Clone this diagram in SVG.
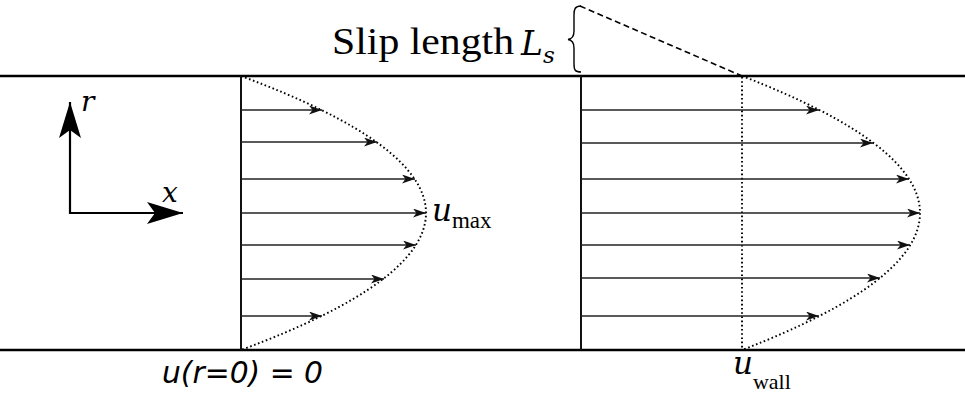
<svg xmlns="http://www.w3.org/2000/svg" width="965" height="394" viewBox="0 0 965 394">
<style>
.wall{stroke:#000;stroke-width:2.6;fill:none}
.base{stroke:#111;stroke-width:2;fill:none}
.vel{stroke:#222;stroke-width:1.4;fill:none;marker-end:url(#ah)}
.dot{stroke:#000;stroke-width:1.9;fill:none;stroke-dasharray:1.6 2.6}
.dash{stroke:#000;stroke-width:1.6;fill:none;stroke-dasharray:6 3.5}
.axis{stroke:#000;stroke-width:2.2;fill:none;marker-end:url(#big)}
.t{font-family:"Liberation Serif",serif;fill:#000}
.m{font-family:"DejaVu Serif",serif;font-style:italic;fill:#000}
.s{font-family:"DejaVu Sans",sans-serif;font-style:italic;fill:#000}
</style>
<defs>
<marker id="ah" markerUnits="userSpaceOnUse" markerWidth="14" markerHeight="10" refX="13" refY="4.5" orient="auto" viewBox="0 0 14 10">
<path d="M0,0 L13,4.5 L0,9 L3.5,4.5 Z" fill="#111"/>
</marker>
<marker id="big" markerUnits="userSpaceOnUse" markerWidth="38" markerHeight="24" refX="36" refY="11" orient="auto" viewBox="0 0 38 24">
<path d="M0,0 L36,11 L0,22 L8,11 Z" fill="#000"/>
</marker>
</defs>

<g id="walls">
<line class="wall" x1="0" y1="76" x2="965" y2="76"/>
<line class="wall" x1="0" y1="350" x2="965" y2="350"/>
</g>

<g id="axes">
<line class="axis" x1="70" y1="214" x2="70" y2="102"/>
<line class="axis" x1="69" y1="213" x2="183" y2="213"/>
<text class="m" x="81" y="111" font-size="28">r</text>
<text class="m" x="162" y="202" font-size="28">x</text>
</g>

<g id="noslip-profile">
<line class="base" x1="241" y1="76" x2="241" y2="350"/>
<path class="dot" d="M241,76 Q611,213 241,350"/>
<text class="s" x="162" y="383" font-size="30" textLength="161" lengthAdjust="spacingAndGlyphs">u(r=0) = 0</text>
<text x="432" y="221"><tspan class="m" font-size="31">u</tspan><tspan class="t" font-size="23" dy="7">max</tspan></text>
</g>

<g id="slip-profile">
<line class="base" x1="581" y1="76" x2="581" y2="350"/>
<line class="dot" x1="742" y1="77" x2="742" y2="350"/>
<path class="dot" d="M742,76 Q1098,213 742,350"/>
<text x="733" y="374"><tspan class="m" font-size="31">u</tspan><tspan class="t" font-size="22" dy="15">wall</tspan></text>
</g>

<g id="slip-length">
<text class="t" x="332" y="54" font-size="37" textLength="182" lengthAdjust="spacingAndGlyphs">Slip length</text>
<text x="521" y="55"><tspan class="m" font-size="33">L</tspan><tspan class="m" font-size="23" dy="8">s</tspan></text>
<path d="M581,6 C575,6 574,9 574,15 L574,31 C574,37 572,39 568,39.5 C572,40 574,42 574,48 L574,64 C574,70 575,72 581,72" stroke="#000" stroke-width="1.4" fill="none"/>
<line class="dash" x1="580" y1="6" x2="742" y2="76"/>
</g>

<g id="connectors">
<line class="vel" x1="241" y1="110" x2="322" y2="110"/>
<line class="vel" x1="241" y1="142" x2="377" y2="142"/>
<line class="vel" x1="241" y1="179" x2="415" y2="179"/>
<line class="vel" x1="241" y1="213" x2="426" y2="213"/>
<line class="vel" x1="241" y1="245" x2="416" y2="245"/>
<line class="vel" x1="241" y1="279" x2="384" y2="279"/>
<line class="vel" x1="241" y1="316" x2="322" y2="316"/>
<line class="vel" x1="581" y1="110" x2="819" y2="110"/>
<line class="vel" x1="581" y1="143" x2="873" y2="143"/>
<line class="vel" x1="581" y1="179" x2="909" y2="179"/>
<line class="vel" x1="581" y1="213" x2="920" y2="213"/>
<line class="vel" x1="581" y1="245" x2="910" y2="245"/>
<line class="vel" x1="581" y1="278" x2="880" y2="278"/>
<line class="vel" x1="581" y1="316" x2="819" y2="316"/>
</g>
</svg>
